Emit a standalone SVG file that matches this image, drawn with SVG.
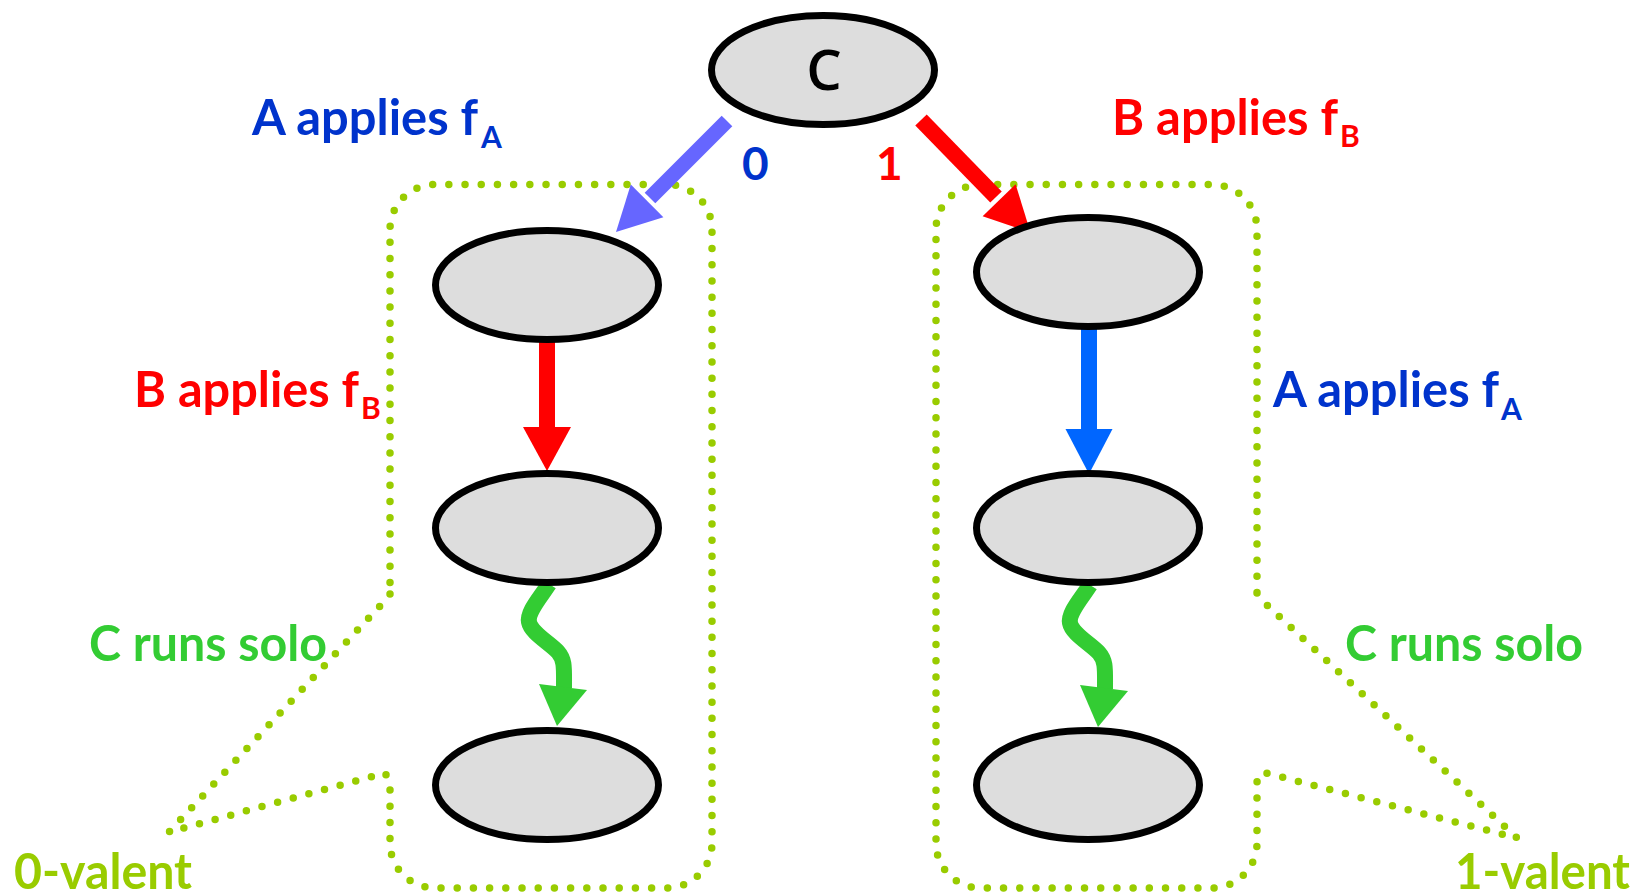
<svg xmlns="http://www.w3.org/2000/svg" width="1652" height="896" viewBox="0 0 1652 896">
<style>
.node{fill:#dddddd;stroke:#000;stroke-width:7}
.t{font-family:Lato,"Open Sans","Liberation Sans",sans-serif;font-weight:700}
.lbl{font-size:49px}
.sub{font-size:30px}
.blue{fill:#0033cc}
.red{fill:#ff0000}
.green{fill:#33cc33}
.lime{fill:#99cc00}
.dots{fill:none;stroke:#99cc00;stroke-width:7.5;stroke-linecap:round;stroke-linejoin:round;stroke-dasharray:0 16.2}
</style>
<rect width="1652" height="896" fill="#ffffff"/>
<g id="region-0-valent">
<path class="dots" d="M 390 594 L 380 606 L 169 832 L 385 773 L 390 782 V 843 A 45 45 0 0 0 435 888 H 667 A 45 45 0 0 0 712 843 V 229.5 A 45 45 0 0 0 667 184.5 H 435 A 45 45 0 0 0 390 229.5 Z"/>
<text class="t lime" x="14" y="889" font-size="49" textLength="178" lengthAdjust="spacingAndGlyphs">0-valent</text>
</g>
<g id="region-1-valent">
<path class="dots" d="M 1257 593 L 1267 605 L 1517 838 L 1262 772 L 1257 782 V 843 A 45 45 0 0 1 1212 888 H 981 A 45 45 0 0 1 936 843 V 229.5 A 45 45 0 0 1 981 184.5 H 1212 A 45 45 0 0 1 1257 229.5 Z"/>
<text class="t lime" x="1455" y="889" font-size="49" textLength="175" lengthAdjust="spacingAndGlyphs">1-valent</text>
</g>
<g id="connectors">
<line x1="727" y1="121" x2="650" y2="198" stroke="#6666ff" stroke-width="15"/>
<polygon points="616,232 630.8,184.6 663.4,217.2" fill="#6666ff"/>
<line x1="921" y1="120" x2="996" y2="197" stroke="#ff0000" stroke-width="16"/>
<polygon points="1030.5,232.5 982.6,216.3 1015.6,184.3" fill="#ff0000"/>
<line x1="547" y1="338" x2="547" y2="430" stroke="#ff0000" stroke-width="16"/>
<polygon points="523,427 571,427 547,471" fill="#ff0000"/>
<line x1="1089" y1="325" x2="1089" y2="432" stroke="#0066ff" stroke-width="16"/>
<polygon points="1065.5,429 1112.5,429 1089,474" fill="#0066ff"/>
<g id="solo-left">
<path d="M 549 584 C 540 598, 527 612, 529 622 C 531 633, 550 643, 558 652 C 565 660, 564 668, 564 688" fill="none" stroke="#33cc33" stroke-width="16"/>
<polygon points="539,684 587,690 557,726" fill="#33cc33"/>
</g>
<g id="solo-right" transform="translate(541,1)">
<path d="M 549 584 C 540 598, 527 612, 529 622 C 531 633, 550 643, 558 652 C 565 660, 564 668, 564 688" fill="none" stroke="#33cc33" stroke-width="16"/>
<polygon points="539,684 587,690 557,726" fill="#33cc33"/>
</g>
</g>
<g id="labels">
<text class="t lbl blue" x="252" y="135"><tspan textLength="226" lengthAdjust="spacingAndGlyphs">A applies f</tspan><tspan class="sub" x="481" y="148">A</tspan></text>
<text class="t lbl red" x="1112" y="135"><tspan textLength="226" lengthAdjust="spacingAndGlyphs">B applies f</tspan><tspan class="sub" x="1340" y="147">B</tspan></text>
<text class="t blue" x="742" y="180" font-size="46">0</text>
<text class="t red" x="876" y="180" font-size="46">1</text>
<text class="t lbl red" x="134" y="407"><tspan textLength="225" lengthAdjust="spacingAndGlyphs">B applies f</tspan><tspan class="sub" x="361" y="419">B</tspan></text>
<text class="t lbl blue" x="1273" y="407"><tspan textLength="226" lengthAdjust="spacingAndGlyphs">A applies f</tspan><tspan class="sub" x="1501" y="420">A</tspan></text>
<text class="t lbl green" x="89" y="661" textLength="238" lengthAdjust="spacingAndGlyphs">C runs solo</text>
<text class="t lbl green" x="1345" y="661" textLength="238" lengthAdjust="spacingAndGlyphs">C runs solo</text>
</g>
<g id="node-C"><ellipse class="node" cx="823" cy="70" rx="111.5" ry="54.5"/><text x="824" y="90" font-family="'Open Sans','Noto Sans','Liberation Sans',sans-serif" font-weight="600" font-size="56" text-anchor="middle" fill="#000">C</text></g>
<g id="node-L1"><ellipse class="node" cx="547" cy="285" rx="111.5" ry="54.5"/></g>
<g id="node-L2"><ellipse class="node" cx="547" cy="528" rx="111.5" ry="54.5"/></g>
<g id="node-L3"><ellipse class="node" cx="547" cy="785" rx="111.5" ry="54.5"/></g>
<g id="node-R1"><ellipse class="node" cx="1088" cy="272" rx="111.5" ry="54.5"/></g>
<g id="node-R2"><ellipse class="node" cx="1088" cy="528" rx="111.5" ry="54.5"/></g>
<g id="node-R3"><ellipse class="node" cx="1088" cy="785" rx="111.5" ry="54.5"/></g>
</svg>
